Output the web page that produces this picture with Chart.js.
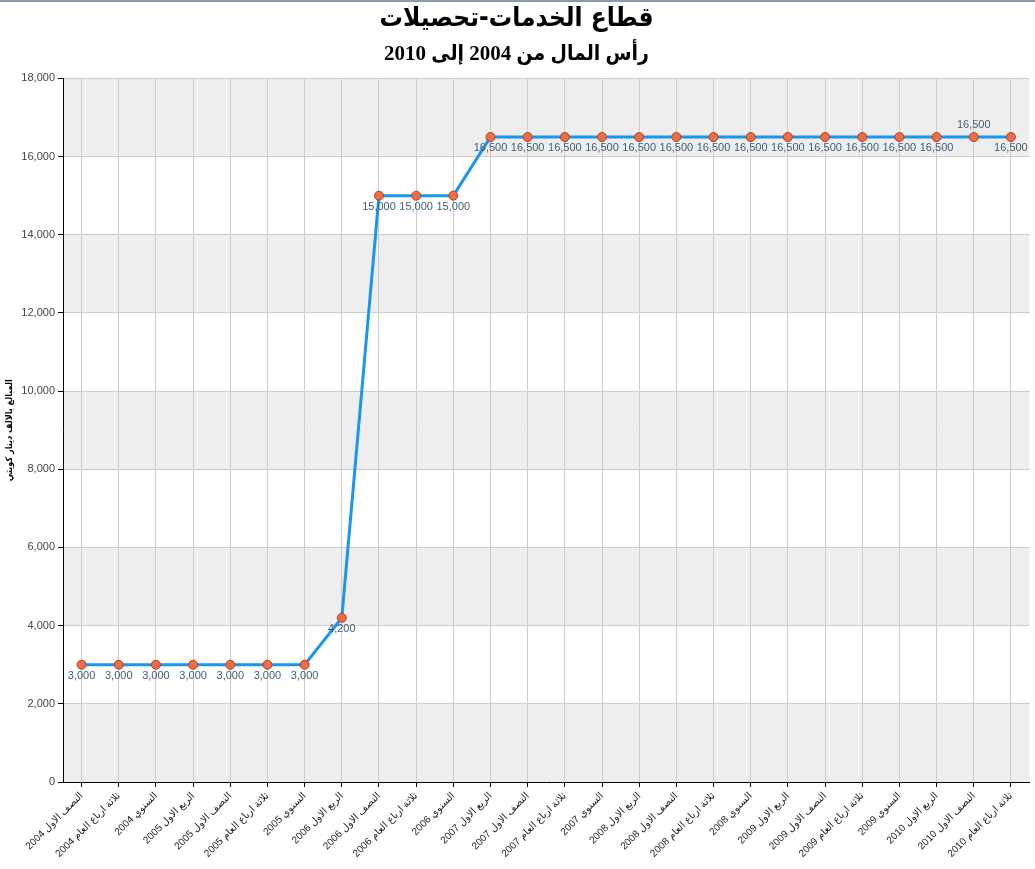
<!DOCTYPE html>
<html>
<head>
<meta charset="utf-8">
<script src="https://cdn.jsdelivr.net/npm/chart.js@4.4.0/dist/chart.umd.min.js"></script>
<style>
  html, body { margin: 0; padding: 0; background: #fff; }
  #wrap { width: 1035px; height: 869px; position: relative; border-top: 2px solid #8a9aab; box-sizing: border-box; }
  canvas { display: block; }
</style>
</head>
<body>
<div id="wrap"><canvas id="capitalChart" width="1035" height="867"></canvas></div>
<script>
// periods (x categories)
const periods = [
    'النصف الاول 2004', 'ثلاثة ارباع العام 2004', 'السنوي 2004',
    'الربع الاول 2005', 'النصف الاول 2005', 'ثلاثة ارباع العام 2005', 'السنوي 2005',
    'الربع الاول 2006', 'النصف الاول 2006', 'ثلاثة ارباع العام 2006', 'السنوي 2006',
    'الربع الاول 2007', 'النصف الاول 2007', 'ثلاثة ارباع العام 2007', 'السنوي 2007',
    'الربع الاول 2008', 'النصف الاول 2008', 'ثلاثة ارباع العام 2008', 'السنوي 2008',
    'الربع الاول 2009', 'النصف الاول 2009', 'ثلاثة ارباع العام 2009', 'السنوي 2009',
    'الربع الاول 2010', 'النصف الاول 2010', 'ثلاثة ارباع العام 2010'
];

// capital, thousands KWD
const capital = [
    3000, 3000, 3000, 3000, 3000, 3000, 3000,
    4200, 15000, 15000, 15000,
    16500, 16500, 16500, 16500, 16500, 16500, 16500, 16500,
    16500, 16500, 16500, 16500, 16500, 16500, 16500
];

// which value labels sit above the point instead of below
const labelAbove = [24];

const chartTitle = 'قطاع الخدمات-تحصيلات';
const chartSubtitle = 'رأس المال من 2004 إلى 2010';
const yAxisTitle = 'المبالغ بالالف دينار كويتي';

const fmt = v => v.toLocaleString('en-US');

// alternating grey bands between y ticks
const bandPlugin = {
    id: 'bands',
    beforeDraw(chart) {
        const ctx = chart.ctx;
        const area = chart.chartArea;
        const y = chart.scales.y;
        ctx.save();
        ctx.fillStyle = '#eeeeee';
        for (let i = 0; i < y.ticks.length - 1; i += 2) {
            const y0 = y.getPixelForValue(y.ticks[i].value);
            const y1 = y.getPixelForValue(y.ticks[i + 1].value);
            ctx.fillRect(area.left, y1, area.right - area.left, y0 - y1);
        }
        ctx.restore();
    }
};

// value labels under the markers
const valueLabels = {
    id: 'valueLabels',
    afterDatasetsDraw(chart) {
        const ctx = chart.ctx;
        const meta = chart.getDatasetMeta(0);
        ctx.save();
        ctx.font = '11px Arial, "Liberation Sans", sans-serif';
        ctx.fillStyle = '#3e5c7a';
        ctx.textAlign = 'center';
        ctx.textBaseline = 'middle';
        meta.data.forEach((pt, i) => {
            const above = labelAbove.includes(i);
            ctx.fillText(fmt(capital[i]), pt.x, above ? pt.y - 12 : pt.y + 11);
        });
        ctx.restore();
    }
};

const ctx = document.getElementById('capitalChart').getContext('2d');

new Chart(ctx, {
    type: 'line',
    data: {
        labels: periods,
        datasets: [
            {
                label: 'رأس المال',
                data: capital,
                borderColor: '#1a96ee',
                borderWidth: 3,
                pointBackgroundColor: '#f26b43',
                pointBorderColor: '#a8442c',
                pointBorderWidth: 1,
                pointRadius: 4.5,
                tension: 0,
                fill: false
            }
        ]
    },
    options: {
        responsive: false,
        animation: false,
        layout: {
            padding: { left: 0, right: 2, top: 0, bottom: 0 }
        },
        plugins: {
            legend: { display: false },
            tooltip: { enabled: false },
            title: {
                display: true,
                text: chartTitle,
                color: '#000',
                font: { family: '"DejaVu Sans Condensed", "DejaVu Sans", sans-serif', size: 26, weight: 'bold' },
                padding: { top: 2, bottom: 4 }
            },
            subtitle: {
                display: true,
                text: chartSubtitle,
                color: '#000',
                font: { family: '"Liberation Serif", "DejaVu Sans Condensed", "DejaVu Sans", serif', size: 21, weight: 'bold' },
                padding: { top: 3, bottom: 11 }
            }
        },
        scales: {
            x: {
                type: 'category',
                offset: true,
                afterFit(scale) { scale.height = 87; },
                border: { color: '#000', width: 1 },
                grid: {
                    color: '#cccccc',
                    tickColor: '#000',
                    tickLength: 5,
                    offset: false
                },
                ticks: {
                    color: '#222',
                    autoSkip: false,
                    minRotation: 45,
                    maxRotation: 45,
                    padding: 3,
                    font: { family: 'Arial, "DejaVu Sans", sans-serif', size: 10 }
                }
            },
            y: {
                min: 0,
                max: 18000,
                afterFit(scale) { scale.width = 63; },
                border: { color: '#000', width: 1 },
                grid: {
                    color: '#cccccc',
                    tickColor: '#000',
                    tickLength: 5
                },
                ticks: {
                    stepSize: 2000,
                    color: '#444',
                    padding: 3,
                    font: { family: 'Arial, "Liberation Sans", sans-serif', size: 11 },
                    callback: value => fmt(value)
                },
                title: {
                    display: true,
                    text: yAxisTitle,
                    color: '#000',
                    padding: { top: 4, bottom: 0 },
                    font: { family: '"DejaVu Sans Condensed", "DejaVu Sans", sans-serif', size: 9, weight: 'bold' }
                }
            }
        }
    },
    plugins: [bandPlugin, valueLabels]
});
</script>
</body>
</html>
